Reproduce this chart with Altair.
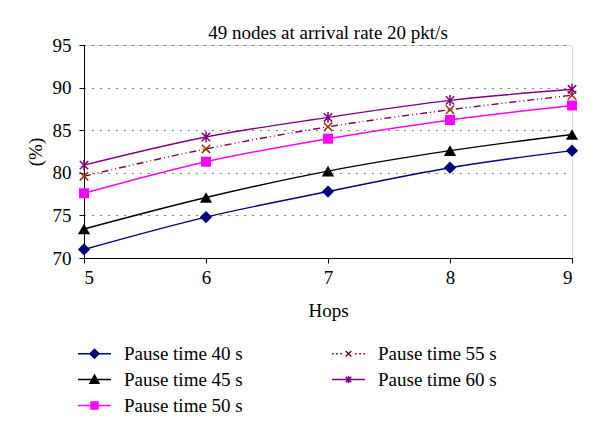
import altair as alt
import pandas as pd

hops = [5, 6, 7, 8, 9]
series_names = ["Pause time 40 s", "Pause time 45 s", "Pause time 50 s",
                "Pause time 55 s", "Pause time 60 s"]
p40 = [71.0, 74.8, 77.8, 80.6, 82.6]
p45 = [73.4, 77.1, 80.2, 82.6, 84.5]
p50 = [77.6, 81.3, 84.0, 86.2, 87.9]
p55 = [79.6, 82.8, 85.4, 87.4, 89.1]
p60 = [80.9, 84.2, 86.5, 88.5, 89.8]
y_ticks = [70, 75, 80, 85, 90, 95]

all_vals = [p40, p45, p50, p55, p60]
rows = []
for name, vals in zip(series_names, all_vals):
    for h, v in zip(hops, vals):
        rows.append({"series": name, "hops": h, "value": v})
df = pd.DataFrame(rows)

FONT = "Liberation Serif"
FS = 19
line_colors = ["#000080", "#000000", "#FF00FF", "#800040", "#800080"]
marker_colors = ["#000080", "#000000", "#FF00FF", "#993300", "#800080"]
marker_shapes = ["diamond", "triangle-up", "square",
                 "M-1,-1L1,1M-1,1L1,-1",
                 "M-1,-1L1,1M-1,1L1,-1M0,-1.3L0,1.3"]
marker_filled = [True, True, True, False, False]
marker_sizes = [150, 150, 100, 70, 70]
dashes = [None, None, None, [7, 3, 1, 3, 1, 3], None]

LINE = "M-1.94,0H1.94"
legend_paths = [
    LINE + "M0,-0.53L0.53,0L0,0.53L-0.53,0Z",
    LINE + "M0,-0.53L0.53,0.43L-0.53,0.43Z",
    LINE + "M-0.41,-0.41H0.41V0.41H-0.41Z",
    "M-1.94,0H-1.75M-1.46,0H-1.26M-0.97,0H-0.78M0.78,0H0.97M1.26,0H1.46M1.75,0H1.94"
    "M-0.33,-0.33L0.33,0.33M-0.33,0.33L0.33,-0.33",
    LINE + "M-0.33,-0.33L0.33,0.33M-0.33,0.33L0.33,-0.33M0,-0.4V0.4",
]

x_enc = alt.X("hops:Q",
              scale=alt.Scale(domain=[5, 9], nice=False, zero=False),
              axis=alt.Axis(values=hops, format="d", title="Hops",
                            labelFont=FONT, labelFontSize=FS, labelColor="black",
                            titleFont=FONT, titleFontSize=FS, titleFontWeight="normal",
                            titleColor="black", domainColor="black", tickColor="black",
                            tickSize=5, labelPadding=5, titlePadding=14, grid=False))
y_enc = alt.Y("value:Q",
              scale=alt.Scale(domain=[70, 95], nice=False, zero=False),
              axis=alt.Axis(values=y_ticks, title="(%)",
                            labelFont=FONT, labelFontSize=FS, labelColor="black",
                            titleFont=FONT, titleFontSize=FS, titleFontWeight="normal",
                            titleColor="black", domainColor="black", tickColor="black",
                            tickSize=5, labelPadding=8, titlePadding=7,
                            grid=True, gridColor="black", gridDash=[1, 7],
                            gridWidth=1))

base = alt.Chart(df)
layers = []
for i, name in enumerate(series_names):
    sub = base.transform_filter(alt.datum.series == name)
    lkw = dict(color=line_colors[i], strokeWidth=1.4, interpolate="monotone")
    if dashes[i]:
        lkw["strokeDash"] = dashes[i]
    layers.append(sub.mark_line(**lkw).encode(x=x_enc, y=y_enc))
for i, name in enumerate(series_names):
    sub = base.transform_filter(alt.datum.series == name)
    layers.append(sub.mark_point(shape=marker_shapes[i], filled=marker_filled[i],
                                 color=marker_colors[i], size=marker_sizes[i],
                                 strokeWidth=1.5, opacity=1).encode(x=x_enc, y=y_enc))

leg = alt.Legend(title=None, orient="none", legendX=1, legendY=299, columns=2,
                 columnPadding=86, rowPadding=6, labelFont=FONT, labelFontSize=FS,
                 labelColor="black", labelOffset=20, symbolSize=289,
                 symbolStrokeWidth=1.5, labelLimit=300)
legend_layer = base.transform_filter("false").mark_point(
    filled=True, size=289, strokeWidth=1.5, opacity=1).encode(
    x=x_enc, y=y_enc,
    fill=alt.Fill("series:N", scale=alt.Scale(domain=series_names, range=line_colors), legend=leg),
    stroke=alt.Stroke("series:N", scale=alt.Scale(domain=series_names, range=line_colors), legend=leg),
    shape=alt.Shape("series:N", scale=alt.Scale(domain=series_names, range=legend_paths), legend=leg),
)
layers.append(legend_layer)

chart = alt.layer(*layers).properties(
    width=488, height=213,
    title=alt.TitleParams("49 nodes at arrival rate 20 pkt/s", font=FONT, fontSize=FS,
                          fontWeight="normal", color="black", offset=-7, anchor="middle"),
    padding={"left": 18, "top": 16, "right": 10, "bottom": 10},
).configure_view(stroke="black", strokeWidth=1).configure(background="white")

chart.save("out.html", embed_options={"renderer": "svg", "actions": False})
